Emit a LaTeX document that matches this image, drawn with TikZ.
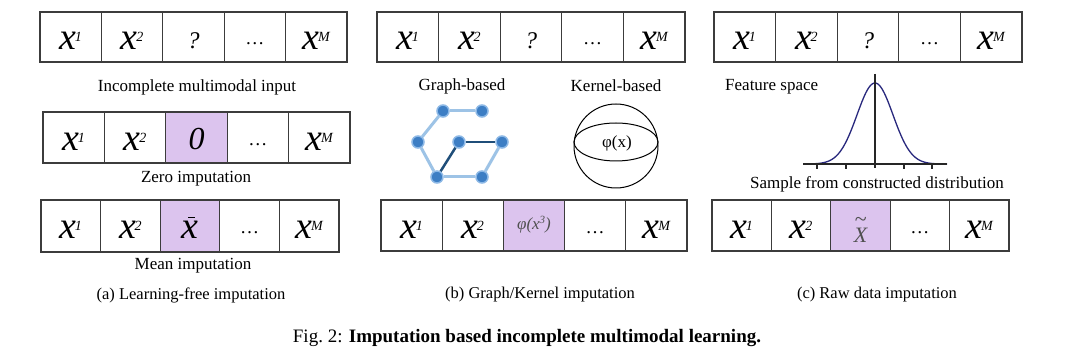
\documentclass[tikz,border=0pt]{standalone}
\usepackage{fontspec}
\setmainfont{Liberation Serif}
\definecolor{imp}{RGB}{220,196,238}
\definecolor{bord}{RGB}{60,60,60}
\definecolor{lightedge}{RGB}{157,195,230}
\definecolor{darkedge}{RGB}{31,78,121}
\definecolor{gnodec}{RGB}{61,126,196}
\definecolor{gring}{RGB}{140,184,230}
\definecolor{gaussc}{RGB}{40,40,125}
\definecolor{tgray}{RGB}{80,80,80}
\newcommand\fs[1]{\fontsize{#1}{#1}\selectfont}
\newcommand\bigx[1]{{\fs{38}\itshape x}\kern-1.5pt\raisebox{8pt}{\fs{14}\itshape #1}}
\newcommand\cdotsx{\raisebox{5pt}{\fs{19}…}}
\newcommand\xbarx{{\fs{38}\itshape x}\llap{\rule[20.5pt]{6.5pt}{1.1pt}\kern3.5pt}}
\newcommand\Xtilde{\raisebox{-4pt}{\textcolor{tgray}{\fs{22}\itshape X\llap{\raisebox{16pt}{\fs{22}\upshape\textasciitilde}\kern0.5pt}}}}
\newcommand\phix{\raisebox{9pt}{\textcolor{tgray}{\fs{17}\itshape φ(x\raisebox{6pt}{\fs{11}3})}}}
\newcommand\imrow[7]{%
  \pgfmathsetmacro\cw{(#3-#2)/5}%
  \pgfmathsetmacro\ch{#5-#4}%
  \pgfmathsetmacro\cy{(#4+#5)/2}%
  \node[cellbox,minimum width=\cw pt,minimum height=\ch pt] (#1-1) at ({#2+0.5*\cw},\cy) {\bigx{1}};
  \node[cellbox,minimum width=\cw pt,minimum height=\ch pt] (#1-2) at ({#2+1.5*\cw},\cy) {\bigx{2}};
  \node[cellbox,minimum width=\cw pt,minimum height=\ch pt,fill=#7] (#1-3) at ({#2+2.5*\cw},\cy) {#6};
  \node[cellbox,minimum width=\cw pt,minimum height=\ch pt] (#1-4) at ({#2+3.5*\cw},\cy) {\cdotsx};
  \node[cellbox,minimum width=\cw pt,minimum height=\ch pt] (#1-5) at ({#2+4.5*\cw},\cy) {\bigx{M}};
}
\begin{document}
\begin{tikzpicture}[x=1pt,y=-1pt,
  cellbox/.style={draw=bord,line width=1.2pt,inner sep=0pt,text height=25.5pt,text depth=0pt,fill=white},
  lbl/.style={font=\fs{17},inner sep=0pt},
  sublbl/.style={font=\fs{16.5},inner sep=0pt},
  gnode/.style={circle,fill=gnodec,draw=gring,line width=1.5pt,inner sep=0pt,minimum size=12pt},
  ledge/.style={lightedge,line width=3pt},
  dedge/.style={darkedge,line width=2.5pt}]
\fill[white] (0,0) rectangle (1080,363);
\useasboundingbox (0,0) rectangle (1080,363);
% (a)
\imrow{a1}{40}{347}{12}{62}{\raisebox{1.5pt}{\fs{24}\itshape ?}}{white}
\node[lbl] (inc) at (197,87) {Incomplete multimodal input};
\imrow{a2}{43}{350}{112}{163}{\raisebox{1pt}{\fs{32}\itshape 0}}{imp}
\node[lbl] (zero) at (196,179) {Zero imputation};
\imrow{a3}{41}{339}{200}{252}{\xbarx}{imp}
\node[lbl] (mean) at (193,266) {Mean imputation};
\node[sublbl] (capa) at (191,295) {(a) Learning-free imputation};
% (b)
\imrow{b1}{377}{685}{12}{62}{\raisebox{1.5pt}{\fs{24}\itshape ?}}{white}
\node[lbl] (gb) at (462,86) {Graph-based};
\node[lbl] (kb) at (616,86) {Kernel-based};
\node[gnode] (g1) at (443,111) {};
\node[gnode] (g2) at (482,111) {};
\node[gnode] (g3) at (418,142) {};
\node[gnode] (g4) at (459,142) {};
\node[gnode] (g5) at (502,142) {};
\node[gnode] (g6) at (437,177) {};
\node[gnode] (g7) at (482,177) {};
\draw[ledge] (g1) -- (g2);
\draw[ledge] (g1) -- (g3);
\draw[ledge] (g3) -- (g6);
\draw[ledge] (g6) -- (g7);
\draw[ledge] (g7) -- (g5);
\draw[dedge] (g4) -- (g5);
\draw[dedge] (g4) -- (g6);
\node[circle,draw=black,line width=1pt,minimum size=84pt,inner sep=0pt] (sph) at (616,146) {};
\draw[black,line width=1pt] (616,142) ellipse [x radius=42pt,y radius=19pt];
\node[font=\fs{17},inner sep=0pt] (phi) at (617,143) {φ(x)};
\imrow{b3}{381}{687}{200}{251}{\phix}{imp}
\node[sublbl] (capb) at (540,295) {(b) Graph/Kernel imputation};
% (c)
\imrow{c1}{714}{1022}{12}{62}{\raisebox{1.5pt}{\fs{24}\itshape ?}}{white}
\node[lbl,anchor=west] (fsp) at (725,87) {Feature space};
\draw[gaussc,line width=1.3pt] plot[domain=-72:72,samples=120,smooth] ({875+\x},{164-81*exp(-(\x*\x)/648)});
\draw[black!85,line width=1.3pt] (803,164) -- (947,164);
\draw[black!85,line width=1.3pt] (875,74) -- (875,168);
\foreach \t in {817,846,904,932} \draw[black!85,line width=1.3pt] (\t,164) -- (\t,169);
\node[lbl] (samp) at (877,184) {Sample from constructed distribution};
\imrow{c3}{712}{1009}{200}{251}{\Xtilde}{imp}
\node[sublbl] (capc) at (877,295) {(c) Raw data imputation};
% caption
\node[font=\fs{19},inner sep=0pt] (cap) at (527,338) {Fig.\ 2: \textbf{Imputation based incomplete multimodal learning.}};
\end{tikzpicture}
\end{document}
